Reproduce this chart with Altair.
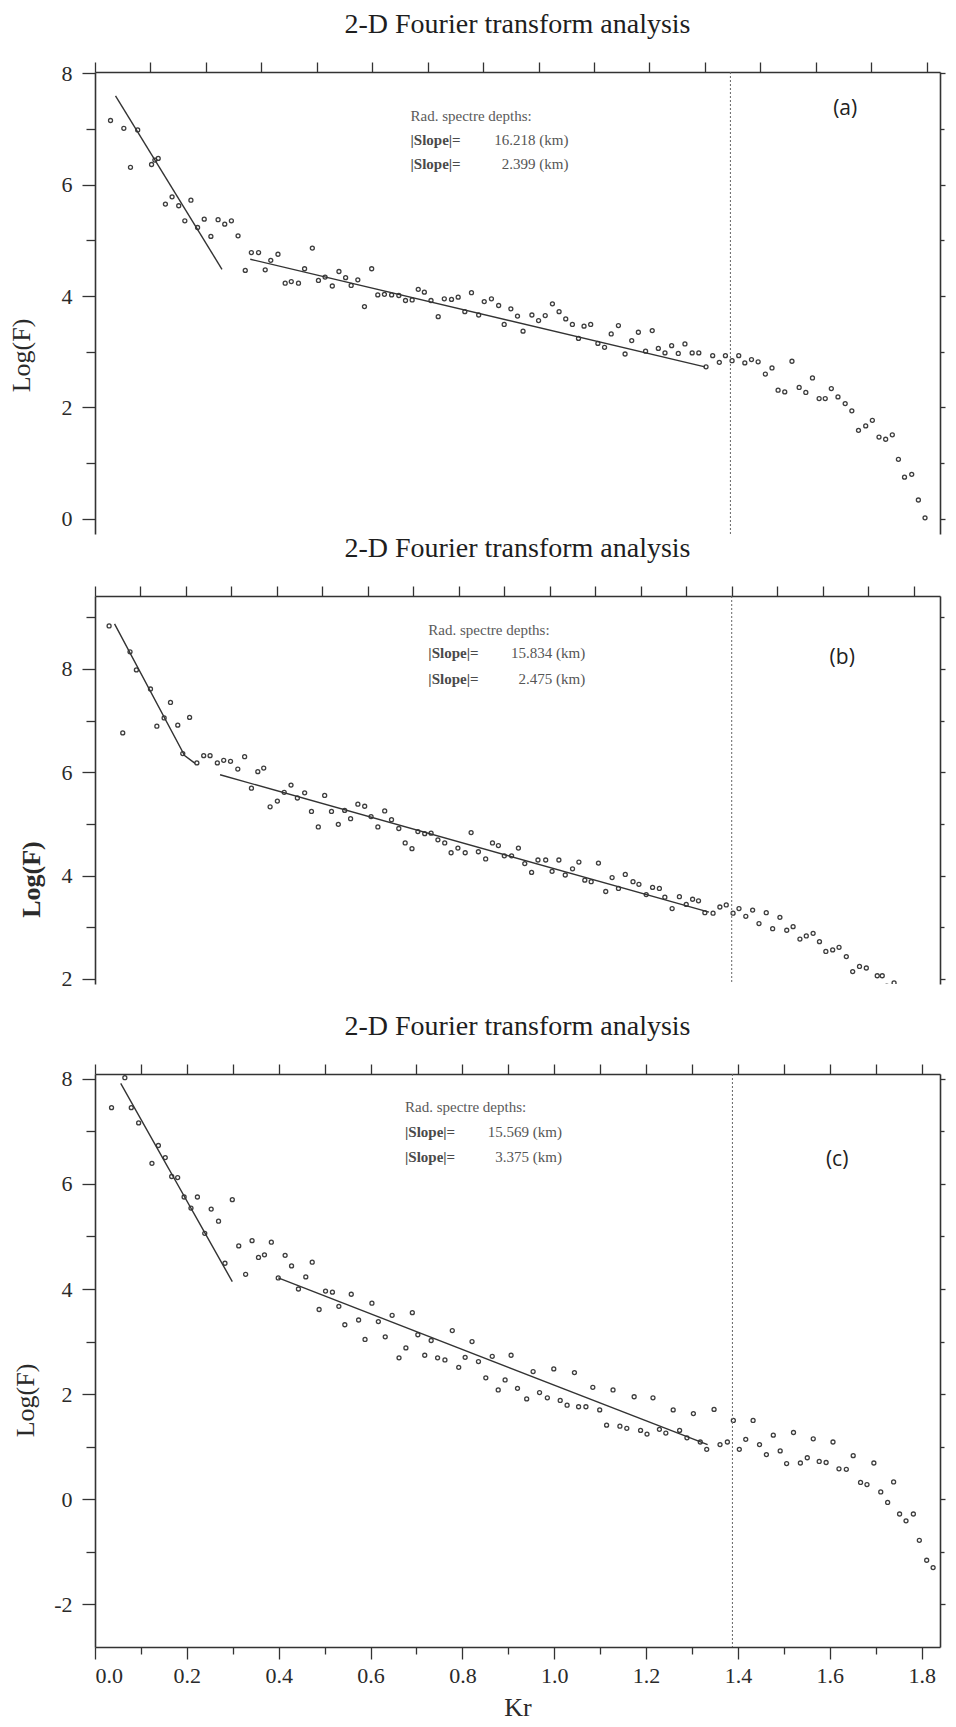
import altair as alt
import pandas as pd

TITLE = "2-D Fourier transform analysis"
X_TITLE = "Kr"
Y_TITLE = "Log(F)"
HEADER = "Rad. spectre depths:"
SLOPE_LABEL = "|Slope|="

# ---------------- panel (a) ----------------
a_kr = [0.028, 0.052, 0.064, 0.077, 0.102, 0.108, 0.114, 0.127, 0.139, 0.151, 0.162, 0.173, 0.185, 0.197,
        0.209, 0.222, 0.234, 0.246, 0.258, 0.271, 0.282, 0.295, 0.307, 0.317, 0.330, 0.343, 0.354, 0.367,
        0.378, 0.392, 0.403, 0.415, 0.428, 0.440, 0.452, 0.462, 0.474, 0.486, 0.499, 0.510, 0.522, 0.535,
        0.548, 0.560, 0.572, 0.583, 0.594, 0.606, 0.619, 0.630, 0.643, 0.655, 0.667, 0.679, 0.692, 0.702,
        0.715, 0.728, 0.738, 0.750, 0.762, 0.772, 0.788, 0.800, 0.812, 0.825, 0.837, 0.849, 0.861, 0.872,
        0.882, 0.894, 0.907, 0.919, 0.931, 0.944, 0.956, 0.968, 0.980, 0.993, 1.005, 1.016, 1.028, 1.040,
        1.052, 1.064, 1.077, 1.089, 1.102, 1.114, 1.126, 1.137, 1.149, 1.161, 1.172, 1.184, 1.196, 1.209,
        1.221, 1.232, 1.244, 1.257, 1.270, 1.282, 1.294, 1.306, 1.317, 1.328, 1.340, 1.353, 1.365, 1.377,
        1.390, 1.402, 1.414, 1.426, 1.438, 1.449, 1.460, 1.473, 1.485, 1.497]
a_logf = [7.15, 7.01, 6.31, 6.98, 6.36, 6.44, 6.47, 5.65, 5.78, 5.62, 5.35, 5.72, 5.23, 5.38,
          5.07, 5.37, 5.29, 5.35, 5.08, 4.46, 4.78, 4.78, 4.47, 4.64, 4.75, 4.23, 4.26, 4.23,
          4.49, 4.86, 4.28, 4.34, 4.18, 4.44, 4.33, 4.19, 4.29, 3.81, 4.49, 4.02, 4.03, 4.02,
          4.01, 3.92, 3.93, 4.12, 4.07, 3.92, 3.63, 3.95, 3.94, 3.98, 3.72, 4.06, 3.66, 3.90,
          3.95, 3.83, 3.49, 3.77, 3.64, 3.37, 3.66, 3.56, 3.65, 3.86, 3.72, 3.59, 3.49, 3.24,
          3.46, 3.49, 3.15, 3.08, 3.32, 3.47, 2.96, 3.20, 3.35, 3.01, 3.38, 3.06, 2.98, 3.11,
          2.97, 3.14, 2.98, 2.98, 2.73, 2.93, 2.81, 2.93, 2.84, 2.93, 2.80, 2.86, 2.82, 2.60,
          2.71, 2.31, 2.28, 2.83, 2.36, 2.27, 2.53, 2.16, 2.16, 2.34, 2.19, 2.07, 1.94, 1.59,
          1.67, 1.77, 1.47, 1.43, 1.51, 1.07, 0.75, 0.80, 0.34, 0.02]
a_fit_kr = [[0.037, 0.229], [0.280, 1.100]]
a_fit_logf = [[7.59, 4.48], [4.66, 2.73]]
a_cut = 1.146
a_slopes = ["16.218 (km)", "2.399 (km)"]

# ---------------- panel (b) ----------------
b_kr = [0.031, 0.061, 0.077, 0.091, 0.122, 0.136, 0.152, 0.166, 0.182, 0.193, 0.208, 0.224, 0.239, 0.253,
        0.269, 0.283, 0.298, 0.314, 0.329, 0.344, 0.358, 0.371, 0.385, 0.401, 0.416, 0.431, 0.445, 0.461,
        0.476, 0.491, 0.505, 0.520, 0.535, 0.549, 0.562, 0.578, 0.593, 0.607, 0.622, 0.637, 0.652, 0.668,
        0.682, 0.697, 0.710, 0.725, 0.739, 0.754, 0.769, 0.783, 0.798, 0.814, 0.827, 0.843, 0.859, 0.874,
        0.887, 0.900, 0.916, 0.931, 0.945, 0.960, 0.974, 0.991, 1.005, 1.020, 1.034, 1.050, 1.064, 1.077,
        1.091, 1.107, 1.123, 1.137, 1.151, 1.166, 1.183, 1.196, 1.212, 1.226, 1.241, 1.253, 1.269, 1.285,
        1.300, 1.314, 1.327, 1.341, 1.359, 1.374, 1.388, 1.403, 1.416, 1.431, 1.446, 1.460, 1.476, 1.490,
        1.506, 1.521, 1.535, 1.550, 1.564, 1.579, 1.593, 1.607, 1.622, 1.636, 1.652, 1.666, 1.681, 1.696,
        1.720, 1.731, 1.741, 1.757]
b_logf = [8.83, 6.76, 8.33, 7.98, 7.61, 6.89, 7.05, 7.35, 6.91, 6.36, 7.06, 6.18, 6.32, 6.32,
          6.18, 6.23, 6.21, 6.06, 6.30, 5.69, 6.01, 6.08, 5.33, 5.44, 5.61, 5.75, 5.50, 5.60,
          5.24, 4.94, 5.55, 5.24, 4.99, 5.26, 5.10, 5.38, 5.34, 5.14, 4.94, 5.25, 5.08, 4.91,
          4.63, 4.52, 4.85, 4.81, 4.82, 4.69, 4.63, 4.44, 4.53, 4.44, 4.83, 4.46, 4.32, 4.63,
          4.58, 4.38, 4.38, 4.53, 4.23, 4.06, 4.30, 4.30, 4.08, 4.30, 4.01, 4.13, 4.26, 3.91,
          3.88, 4.24, 3.69, 3.96, 3.75, 4.02, 3.88, 3.83, 3.63, 3.77, 3.75, 3.58, 3.36, 3.59,
          3.44, 3.54, 3.51, 3.28, 3.27, 3.39, 3.43, 3.27, 3.36, 3.21, 3.33, 3.07, 3.28, 2.97,
          3.19, 2.94, 3.01, 2.77, 2.83, 2.88, 2.72, 2.53, 2.56, 2.61, 2.43, 2.14, 2.24, 2.21,
          2.06, 2.06, 1.86, 1.92]
b_fit_kr = [[0.043, 0.197, 0.220], [0.275, 1.350]]
b_fit_logf = [[8.87, 6.32, 6.17], [5.95, 3.29]]
b_cut = 1.40
b_slopes = ["15.834 (km)", "2.475 (km)"]

# ---------------- panel (c) ----------------
c_kr = [0.036, 0.065, 0.079, 0.095, 0.124, 0.138, 0.153, 0.167, 0.180, 0.194, 0.209, 0.223, 0.239, 0.253,
        0.269, 0.283, 0.299, 0.313, 0.328, 0.342, 0.356, 0.369, 0.384, 0.399, 0.414, 0.428, 0.443, 0.459,
        0.473, 0.488, 0.502, 0.517, 0.531, 0.544, 0.558, 0.574, 0.588, 0.603, 0.617, 0.632, 0.647, 0.662,
        0.677, 0.691, 0.703, 0.718, 0.732, 0.746, 0.762, 0.778, 0.792, 0.806, 0.821, 0.835, 0.851, 0.865,
        0.878, 0.893, 0.906, 0.920, 0.940, 0.954, 0.968, 0.985, 0.999, 1.013, 1.028, 1.044, 1.053, 1.069,
        1.084, 1.099, 1.114, 1.128, 1.143, 1.158, 1.174, 1.188, 1.202, 1.215, 1.229, 1.243, 1.259, 1.273,
        1.289, 1.303, 1.318, 1.332, 1.348, 1.361, 1.377, 1.390, 1.403, 1.417, 1.433, 1.447, 1.462, 1.477,
        1.492, 1.506, 1.521, 1.536, 1.551, 1.564, 1.577, 1.592, 1.607, 1.620, 1.636, 1.651, 1.667, 1.681,
        1.696, 1.711, 1.726, 1.739, 1.752, 1.766, 1.782, 1.795, 1.811, 1.825]
c_logf = [7.45, 8.02, 7.45, 7.16, 6.39, 6.73, 6.50, 6.14, 6.12, 5.75, 5.54, 5.75, 5.06, 5.52,
          5.29, 4.49, 5.70, 4.82, 4.28, 4.92, 4.60, 4.65, 4.89, 4.21, 4.64, 4.44, 4.00, 4.23,
          4.51, 3.61, 3.96, 3.94, 3.67, 3.32, 3.90, 3.41, 3.04, 3.73, 3.38, 3.09, 3.50, 2.69,
          2.88, 3.55, 3.13, 2.74, 3.02, 2.69, 2.65, 3.21, 2.51, 2.70, 3.00, 2.62, 2.31, 2.72,
          2.08, 2.27, 2.74, 2.11, 1.91, 2.43, 2.03, 1.93, 2.48, 1.88, 1.79, 2.41, 1.76, 1.76,
          2.13, 1.70, 1.41, 2.08, 1.39, 1.35, 1.95, 1.31, 1.24, 1.93, 1.33, 1.26, 1.70, 1.31,
          1.17, 1.63, 1.09, 0.95, 1.71, 1.04, 1.09, 1.50, 0.95, 1.14, 1.50, 1.04, 0.85, 1.22,
          0.92, 0.68, 1.27, 0.69, 0.79, 1.15, 0.72, 0.70, 1.09, 0.58, 0.57, 0.83, 0.32, 0.28,
          0.69, 0.14, -0.06, 0.33, -0.28, -0.41, -0.28, -0.78, -1.16, -1.30]
c_fit_kr = [[0.056, 0.299], [0.399, 1.334]]
c_fit_logf = [[7.91, 4.14], [4.21, 1.04]]
c_cut = 1.388
c_slopes = ["15.569 (km)", "3.375 (km)"]

W = 845
INK = "#333333"
SERIF = "Liberation Serif"

EVEN = "abs(datum.value) % 2 === 0"
EVEN_TENTH = "round(datum.value * 10) % 2 === 0"


def panel(kr, logf, fit_kr, fit_logf, cut, slopes, tag, xdom, ydom, yvals, xvals, h,
          ann, tag_xy, ytitle_x, ytitle_y, bottom=False, ytitle_weight="normal", title_offset=24):
    pts = pd.DataFrame({"kr": kr, "logf": logf})
    rows = []
    for i, (fx, fy) in enumerate(zip(fit_kr, fit_logf)):
        for xx, yy in zip(fx, fy):
            rows.append({"seg": i, "kr": xx, "logf": yy})
    fits = pd.DataFrame(rows)

    xs = alt.Scale(domain=xdom, nice=False, zero=False)
    ys = alt.Scale(domain=ydom, nice=False, zero=False)

    top_axis = alt.Axis(orient="top", values=xvals, labels=False, title=None, tickSize=10)
    left_axis = alt.Axis(orient="left", values=yvals, title=Y_TITLE,
                         labelExpr=f"{EVEN} ? '' + datum.value : ''",
                         tickSize={"condition": {"test": EVEN, "value": 13}, "value": 9},
                         labelPadding=10, titleAngle=-90, titleX=ytitle_x, titleY=ytitle_y,
                         titleBaseline="middle", titleFontWeight=ytitle_weight)
    right_axis = alt.Axis(orient="right", values=yvals, labels=False, title=None,
                          tickSize={"condition": {"test": EVEN, "value": 5}, "value": 4})
    if bottom:
        bottom_axis = alt.Axis(orient="bottom", values=xvals, title=X_TITLE,
                               labelExpr=f"{EVEN_TENTH} ? format(datum.value, '.1f') : ''",
                               tickSize={"condition": {"test": EVEN_TENTH, "value": 12}, "value": 7},
                               labelPadding=6, titlePadding=8)
    else:
        bottom_axis = None

    points = alt.Chart(pts).mark_point(shape="circle", filled=False, size=16, strokeWidth=1.3,
                                       color=INK, opacity=0.95, clip=True).encode(
        x=alt.X("kr:Q", scale=xs, axis=top_axis),
        y=alt.Y("logf:Q", scale=ys, axis=left_axis),
    )
    lines = alt.Chart(fits).mark_line(color=INK, strokeWidth=1.4).encode(
        x=alt.X("kr:Q", scale=xs, axis=bottom_axis),
        y=alt.Y("logf:Q", scale=ys, axis=right_axis),
        detail="seg:N",
    )
    rule = alt.Chart(pd.DataFrame({"kr": [cut]})).mark_rule(
        color="#666666", strokeWidth=1, strokeDash=[2, 2]).encode(
        x=alt.X("kr:Q", scale=xs, axis=None))

    (x0, xr, y0, y1, y2) = ann
    head_txt = pd.DataFrame({"kr": [x0], "logf": [y0], "t": [HEADER]})
    slope_txt = pd.DataFrame({"kr": [x0, x0], "logf": [y1, y2], "t": [SLOPE_LABEL, SLOPE_LABEL]})
    value_txt = pd.DataFrame({"kr": [xr, xr], "logf": [y1, y2], "t": slopes})
    tag_df = pd.DataFrame({"kr": [tag_xy[0]], "logf": [tag_xy[1]], "t": [tag]})

    def txt(df, align, font, size, color, weight="normal"):
        return alt.Chart(df).mark_text(align=align, baseline="middle", font=font,
                                       fontSize=size, color=color, fontWeight=weight).encode(
            x=alt.X("kr:Q", scale=xs, axis=None),
            y=alt.Y("logf:Q", scale=ys, axis=None),
            text="t:N")

    layers = [points, lines, rule,
              txt(head_txt, "left", SERIF, 15, "#5a5a5a"),
              txt(slope_txt, "left", SERIF, 15, "#4a4a4a", "bold"),
              txt(value_txt, "right", SERIF, 15, "#555555"),
              txt(tag_df, "center", "Open Sans", 21, "#222222")]
    return alt.layer(*layers).resolve_axis(x="independent", y="independent").properties(
        width=W, height=h,
        title=alt.TitleParams(TITLE, font=SERIF, fontSize=28, fontWeight="normal",
                              color="#1e1e1e", anchor="middle", frame="group",
                              offset=title_offset))


tenths_a = [round(0.1 * i, 1) for i in range(16)]
tenths_bc = [round(0.1 * i, 1) for i in range(19)]

pa = panel(a_kr, a_logf, a_fit_kr, a_fit_logf, a_cut, a_slopes, "(a)",
           [0, 1.524], [-0.27, 8.02], list(range(0, 9)), tenths_a, 462,
           (0.569, 0.854, 7.23, 6.80, 6.37), (1.353, 7.35), -74, 283, title_offset=22)
pb = panel(b_kr, b_logf, b_fit_kr, b_fit_logf, b_cut, b_slopes, "(b)",
           [0, 1.858], [1.9, 9.41], list(range(2, 10)), tenths_bc, 388,
           (0.733, 1.078, 8.76, 8.30, 7.80), (1.643, 8.21), -64, 283,
           ytitle_weight="bold", title_offset=22)
pc = panel(c_kr, c_logf, c_fit_kr, c_fit_logf, c_cut, c_slopes, "(c)",
           [0, 1.84], [-2.81, 8.09], list(range(-2, 9)), tenths_bc, 573,
           (0.675, 1.017, 7.46, 6.98, 6.51), (1.616, 6.45), -70, 326, bottom=True,
           title_offset=22)

top = alt.vconcat(pa, pb, spacing=0)
chart = alt.vconcat(top, pc, spacing=23).properties(
    padding={"left": 0, "top": 3, "right": 0, "bottom": 0}
).configure_view(stroke=None).configure_axis(
    domainColor=INK, domainWidth=1.6, tickColor=INK, tickWidth=1.3,
    labelFont=SERIF, labelFontSize=22, labelColor="#2a2a2a",
    titleFont=SERIF, titleFontSize=26, titleFontWeight="normal", titleColor="#2a2a2a",
    grid=False
).configure_concat(spacing=0)

chart.save("out.html", embed_options={"renderer": "svg", "actions": False})
